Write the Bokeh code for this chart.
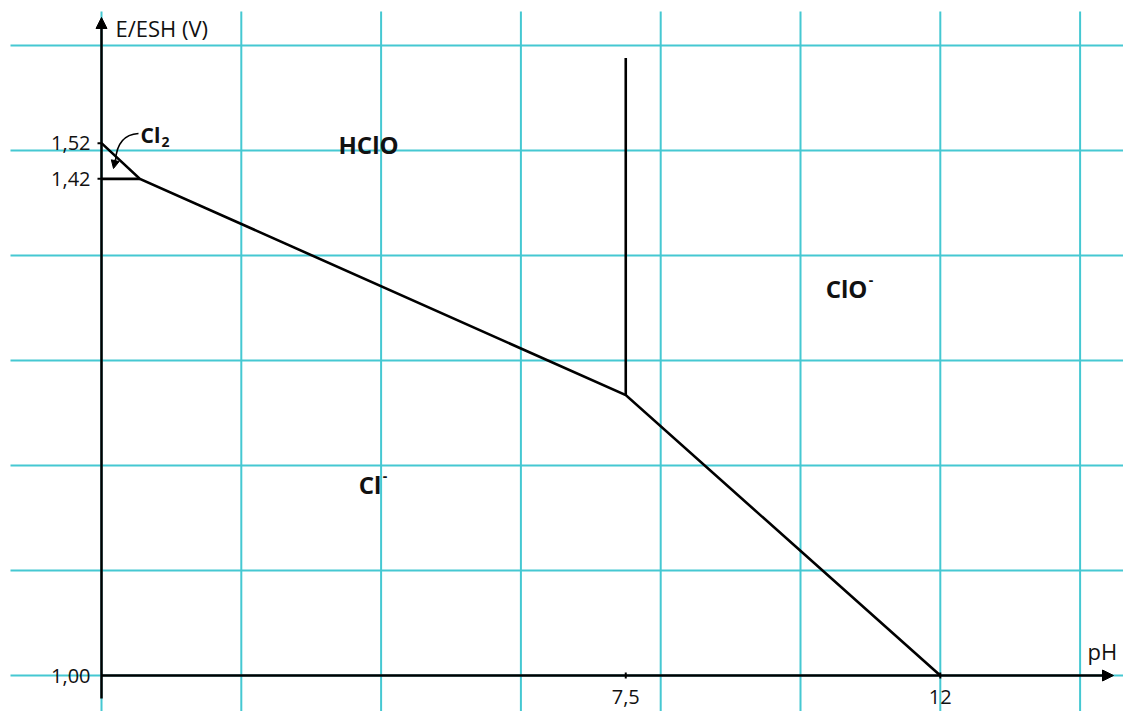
from bokeh.plotting import figure
from bokeh.models import Range1d, Arrow, NormalHead
from bokeh.core.properties import value
from bokeh.embed import file_html
from bokeh.resources import INLINE

# ---- data (schematic potential scale, as drawn) ----
boundary_ph = [0.0, 0.55, 7.5, 12.0]          # Cl2/HClO -> HClO/Cl- -> ClO-/Cl-
boundary_E = [1.507, 1.473, 1.267, 1.00]
cl2_floor_ph = [0.0, 0.55]                     # Cl2/Cl- horizontal boundary
cl2_floor_E = [1.473, 1.473]
pka_ph = [7.5, 7.5]                            # HClO/ClO- vertical boundary
pka_E = [1.267, 1.588]

grid_ph = [0, 2, 4, 6, 8, 10, 12, 14]
grid_E = [1.0, 1.1, 1.2, 1.3, 1.4, 1.5, 1.6]

ytick_E = [1.507, 1.473, 1.00]
ytick_labels = ["1,52", "1,42", "1,00"]
xtick_ph = [7.5, 12.0]
xtick_labels = ["7,5", "12"]

species = ["HClO", "ClO", "Cl"]
species_ph = [3.82, 10.36, 3.68]
species_E = [1.5057, 1.3686, 1.182]

# ---- figure geometry ----
W, H = 1123, 711
PX = 69.9      # px per pH unit
PY = 1050.0    # px per volt
x0 = -(101 - 10) / PX
x1 = (1123 - 101) / PX
y1 = 1 + (675 - 11) / PY
y0 = 1 - (711 - 675) / PY

p = figure(width=W, height=H, x_range=Range1d(x0, x1), y_range=Range1d(y0, y1),
           output_backend="svg", toolbar_location=None,
           x_axis_type=None, y_axis_type=None,
           min_border_left=10, min_border_right=0, min_border_top=11, min_border_bottom=0)
p.outline_line_color = None
p.background_fill_color = "white"
p.border_fill_color = "white"

GRID = "#45C8D2"
FONT = value("Open Sans")
INK = "#111111"

# grid
p.segment(x0=grid_ph, y0=[y0 - 1] * len(grid_ph), x1=grid_ph, y1=[y1 + 1] * len(grid_ph),
          line_color=GRID, line_width=2)
p.segment(x0=[x0 - 1] * len(grid_E), y0=grid_E, x1=[x1 + 1] * len(grid_E), y1=grid_E,
          line_color=GRID, line_width=2)

# axes with arrows
p.add_layout(Arrow(end=NormalHead(size=11, fill_color="black", line_color="black", line_width=1),
                   x_start=0, y_start=1 - 23 / PY, x_end=0, y_end=1 + (675 - 17) / PY,
                   line_color="black", line_width=2.5))
p.add_layout(Arrow(end=NormalHead(size=11, fill_color="black", line_color="black", line_width=1),
                   x_start=0, y_start=1.0, x_end=(1113 - 101) / PX, y_end=1.0,
                   line_color="black", line_width=2.5))

# ticks
p.segment(x0=[-4 / PX] * 2, y0=ytick_E[:2], x1=[0] * 2, y1=ytick_E[:2], line_color="black", line_width=2)
p.segment(x0=xtick_ph, y0=[1 - 3 / PY] * 2, x1=xtick_ph, y1=[1 + 3 / PY] * 2, line_color="black", line_width=2)

# tick labels
p.text(x=[0] * 3, y=ytick_E, text=ytick_labels, x_offset=-11, text_align="right",
       text_baseline="middle", text_font=FONT, text_font_size="20px", text_color=INK)
p.text(x=xtick_ph, y=[1.0] * 2, text=xtick_labels, y_offset=21, text_align="center",
       text_baseline="middle", text_font=FONT, text_font_size="20px", text_color=INK)

# axis titles
p.text(x=[14 / PX], y=[1 + (675 - 27) / PY], text=["E/ESH (V)"], text_align="left",
       text_baseline="middle", text_font=FONT, text_font_size="22px", text_color=INK)
p.text(x=[(1087 - 101) / PX], y=[1 + (675 - 650) / PY], text=["pH"], text_align="left",
       text_baseline="middle", text_font=FONT, text_font_size="22px", text_color=INK)

# boundaries
p.line(boundary_ph, boundary_E, line_color="black", line_width=2.6, line_join="miter")
p.line(cl2_floor_ph, cl2_floor_E, line_color="black", line_width=2.6)
p.line(pka_ph, pka_E, line_color="black", line_width=2.6)

# species labels
p.text(x=species_ph[:1], y=species_E[:1], text=species[:1], text_align="center",
       text_baseline="middle", text_font=FONT, text_font_style="bold", text_font_size="24px",
       text_color=INK)
p.text(x=species_ph[1:], y=species_E[1:], text=species[1:], text_align="left",
       text_baseline="middle", text_font=FONT, text_font_style="bold", text_font_size="24px",
       text_color=INK)
# superscript minus signs
p.text(x=[10.36 + 43 / PX, 3.68 + 24 / PX], y=[1.3686 + 8 / PY, 1.182 + 8 / PY], text=["-", "-"],
       text_align="left", text_baseline="middle", text_font=FONT, text_font_style="bold",
       text_font_size="14px", text_color=INK)

# Cl2 label with subscript
p.text(x=[(140 - 101) / PX], y=[1 + (675 - 134) / PY], text=["Cl"], text_align="left",
       text_baseline="middle", text_font=FONT, text_font_style="bold", text_font_size="21px",
       text_color=INK)
p.text(x=[(161 - 101) / PX], y=[1 + (675 - 141) / PY], text=["2"], text_align="left",
       text_baseline="middle", text_font=FONT, text_font_style="bold", text_font_size="14px",
       text_color=INK)

# curved pointer to the Cl2 domain
p.bezier(x0=[(138 - 101) / PX], y0=[1 + (675 - 133) / PY],
         x1=[(115 - 101) / PX], y1=[1 + (675 - 160) / PY],
         cx0=[(122 - 101) / PX], cy0=[1 + (675 - 134) / PY],
         cx1=[(116 - 101) / PX], cy1=[1 + (675 - 145) / PY],
         line_color="black", line_width=1.6)
p.add_layout(Arrow(end=NormalHead(size=8, fill_color="black", line_color="black", line_width=1),
                   x_start=(115 - 101) / PX, y_start=1 + (675 - 159) / PY,
                   x_end=(113 - 101) / PX, y_end=1 + (675 - 168) / PY,
                   line_color="black", line_width=1.6))

open("out.html", "w").write(file_html(p, INLINE))
